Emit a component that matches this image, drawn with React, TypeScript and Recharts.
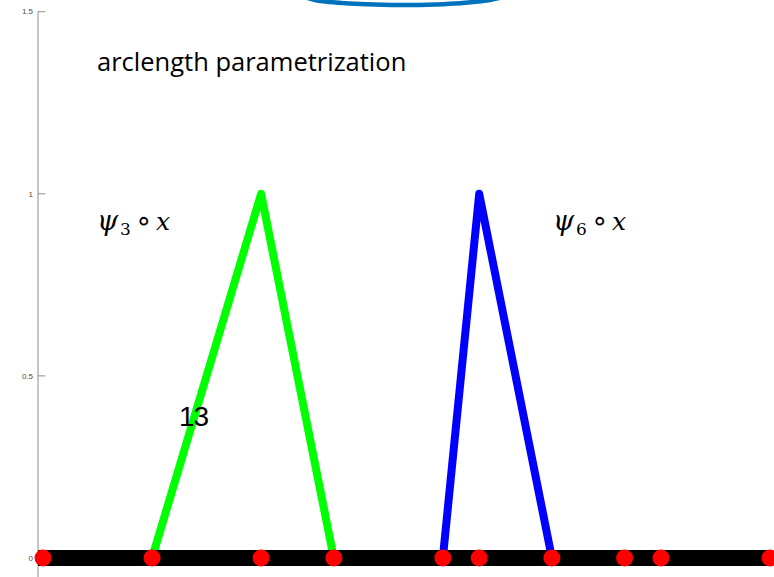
import { ComposedChart, Line, XAxis, YAxis, ReferenceLine, ReferenceDot } from "recharts";

// knots of the arclength parameter (red dots on the black line)
const knotT = [-1.35, 0, 3, 6, 8, 11, 12, 14, 16, 17, 20];

// hat functions
const psi3T = [3, 6, 8];
const psi3Y = [0, 1, 0];
const psi6T = [11, 12, 14];
const psi6Y = [0, 1, 0];

// bottom of the curve x, cut by the top of the figure
const arcT = [7.07, 7.483, 7.895, 8.446, 9.134, 9.959, 10.784, 11.472, 11.967, 12.297, 12.655];
const arcY = [1.5445, 1.5321, 1.5266, 1.5225, 1.5198, 1.5184, 1.5198, 1.5231, 1.528, 1.5321, 1.5404];

const yTicks = [0, 0.5, 1, 1.5];

const X_DOMAIN: [number, number] = [-0.1376, 20.11];
const Y_DOMAIN: [number, number] = [-0.0522, 1.5321];
const TICK_LEN = 0.2; // inward tick length, in x units

const toPoints = (ts: number[], ys: number[]) => ts.map((t, i) => ({ t, y: ys[i] }));

const knotData = knotT.map((t) => ({ t, y: 0 }));
const psi3Data = toPoints(psi3T, psi3Y);
const psi6Data = toPoints(psi6T, psi6Y);
const arcData = toPoints(arcT, arcY);

const AxisTick = ({ x, y, payload }: any) => (
  <text
    x={x - 1}
    y={y}
    dy={2.8}
    textAnchor="end"
    fontSize={8}
    fill="#4d4d4d"
    fontFamily="Liberation Sans, Arial, sans-serif"
  >
    {payload.value}
  </text>
);

const mathFont = "DejaVu Serif, Liberation Serif, serif";

// psi_k o x, laid out piece by piece like the LaTeX output
const PsiLabel = ({ cx, cy, sub }: any) => (
  <g fill="#000">
    <text x={cx} y={cy} fontSize={27} fontStyle="italic" fontFamily={mathFont}>
      ψ
    </text>
    <text x={cx + 23} y={cy + 5} fontSize={17} fontFamily={mathFont}>
      {sub}
    </text>
    <text x={cx + 38} y={cy} fontSize={28} fontFamily="DejaVu Sans, sans-serif">
      ∘
    </text>
    <text x={cx + 59} y={cy} fontSize={25} fontStyle="italic" fontFamily={mathFont}>
      x
    </text>
  </g>
);

export default function App() {
  return (
    <div style={{ position: "fixed", left: 0, top: 0, width: 774, height: 577, background: "#fff" }}>
      <ComposedChart width={774} height={577} margin={{ top: 0, right: 0, bottom: 0, left: 0 }}>
        <XAxis type="number" dataKey="t" domain={X_DOMAIN} allowDataOverflow hide />
        <YAxis
          type="number"
          dataKey="y"
          domain={Y_DOMAIN}
          allowDataOverflow
          ticks={yTicks}
          width={38}
          axisLine={false}
          tickLine={false}
          tickSize={4}
          tickMargin={0}
          tick={<AxisTick />}
        />
        <ReferenceLine
          segment={[
            { x: X_DOMAIN[0], y: Y_DOMAIN[0] },
            { x: X_DOMAIN[0], y: 1.5 },
          ]}
          stroke="#8c8c8c"
          strokeWidth={1}
          ifOverflow="visible"
          zIndex={-50}
        />
        {yTicks.map((v) => (
          <ReferenceLine
            key={`tick-${v}`}
            segment={[
              { x: X_DOMAIN[0], y: v },
              { x: X_DOMAIN[0] + TICK_LEN, y: v },
            ]}
            stroke="#8c8c8c"
            strokeWidth={1}
            ifOverflow="visible"
            zIndex={-50}
          />
        ))}

        <Line
          data={arcData}
          dataKey="y"
          type="monotone"
          stroke="#0072bd"
          strokeWidth={4.5}
          dot={false}
          isAnimationActive={false}
        />
        <Line
          data={psi3Data}
          dataKey="y"
          type="linear"
          stroke="#00ff00"
          strokeWidth={8}
          strokeLinejoin="round"
          dot={false}
          isAnimationActive={false}
        />
        <Line
          data={psi6Data}
          dataKey="y"
          type="linear"
          stroke="#0000ff"
          strokeWidth={8}
          strokeLinejoin="round"
          dot={false}
          isAnimationActive={false}
        />
        <Line
          data={knotData}
          dataKey="y"
          type="linear"
          stroke="#000"
          strokeWidth={16}
          dot={{ r: 8.5, fill: "#ff0000", stroke: "none", strokeWidth: 0, clipDot: false }}
          isAnimationActive={false}
        />

        <ReferenceDot
          x={1.486}
          y={1.337}
          r={0}
          ifOverflow="visible"
          shape={(p: any) => (
            <text x={p.cx} y={p.cy} fontSize={25.5} fontFamily="Open Sans, sans-serif" fill="#000">
              arclength parametrization
            </text>
          )}
        />
        <ReferenceDot
          x={1.486}
          y={0.9}
          r={0}
          ifOverflow="visible"
          shape={(p: any) => <PsiLabel cx={p.cx} cy={p.cy} sub="3" />}
        />
        <ReferenceDot
          x={14.03}
          y={0.9}
          r={0}
          ifOverflow="visible"
          shape={(p: any) => <PsiLabel cx={p.cx} cy={p.cy} sub="6" />}
        />
        <ReferenceDot
          x={3.741}
          y={0.3624}
          r={0}
          ifOverflow="visible"
          shape={(p: any) => (
            <text
              x={p.cx}
              y={p.cy}
              fontSize={28}
              letterSpacing={-1}
              fontFamily="Liberation Sans, sans-serif"
              fill="#000"
            >
              13
            </text>
          )}
        />
      </ComposedChart>
    </div>
  );
}
